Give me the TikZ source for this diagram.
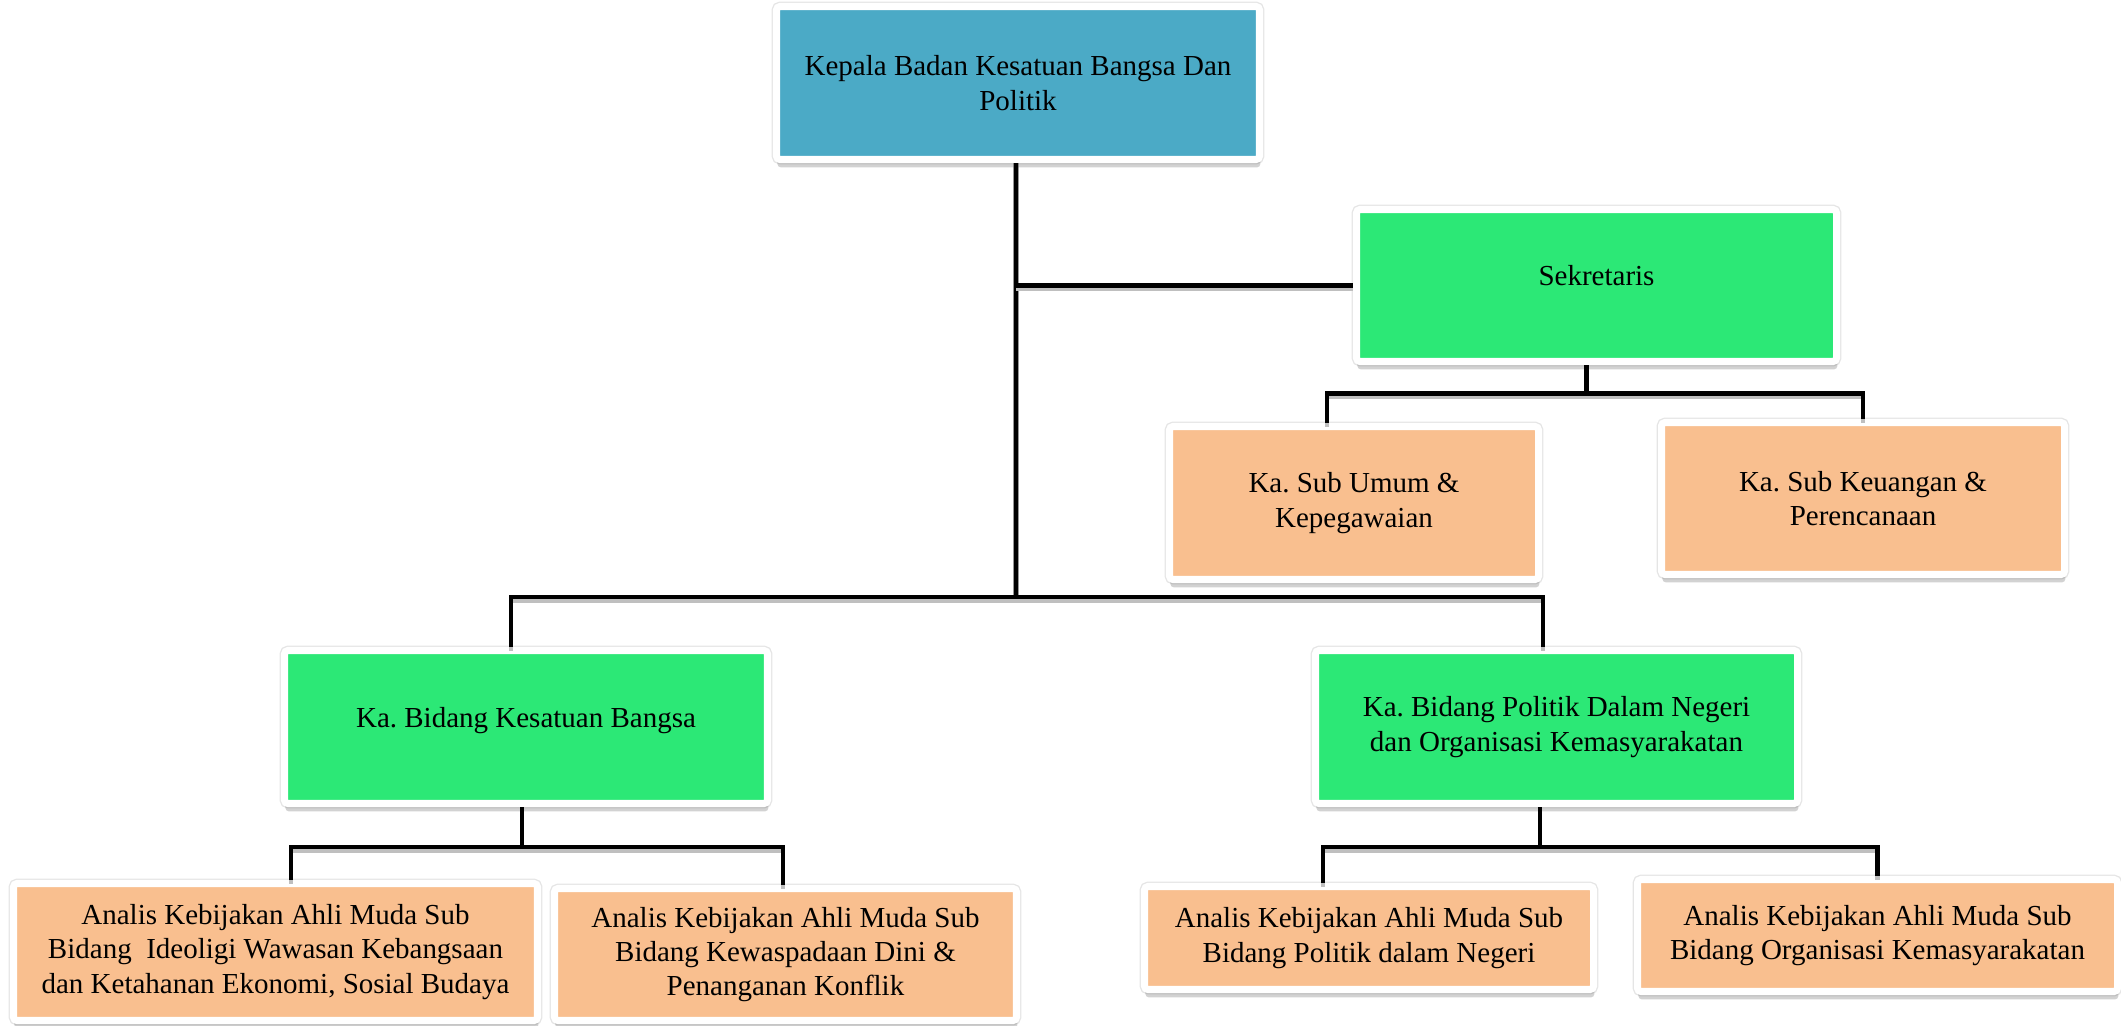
\documentclass[tikz,border=0pt]{standalone}
\usepackage{fontspec}
\setmainfont{Liberation Serif}
\frenchspacing
\usetikzlibrary{positioning,shadows,calc}
\definecolor{topblue}{RGB}{75,170,198}
\definecolor{boxgreen}{RGB}{44,232,118}
\definecolor{boxpeach}{RGB}{249,191,143}
\tikzset{
    unit/.style={draw=white, line width=4pt, rectangle, rounded corners=2pt, inner sep=0pt, align=center, font=\fontsize{16.5}{19.5}\selectfont, preaction={draw=black!10, line width=5.5pt}, drop shadow={shadow xshift=0.5pt, shadow yshift=-4.5pt, opacity=0.25, fill=black!70}},
    headbox/.style={unit, fill=topblue},
    greenbox/.style={unit, fill=boxgreen},
    peachbox/.style={unit, fill=boxpeach},
    link/.style={draw=black, line width=2.8pt, preaction={draw=black!25, line width=2.8pt, transform canvas={yshift=-2pt}}},
}

\begin{document}
\begin{tikzpicture}
\useasboundingbox (0,0) rectangle (42.42,-20.52);

\node[headbox, minimum width=9.66cm, minimum height=3.06cm] (kepala) at (20.36,-1.66) {Kepala Badan Kesatuan Bangsa Dan\\Politik};
\node[greenbox, minimum width=9.6cm, minimum height=3.04cm] (sekretaris) at (31.93,-5.71) {\raisebox{4mm}{Sekretaris}};
\node[peachbox, minimum width=7.38cm, minimum height=3.06cm] (umum) at (27.08,-10.06) {Ka. Sub Umum \&\\Kepegawaian};
\node[peachbox, minimum width=8.06cm, minimum height=3.04cm] (keuangan) at (37.26,-9.97) {Ka. Sub Keuangan \&\\Perencanaan};
\node[greenbox, minimum width=9.66cm, minimum height=3.06cm] (kesatuan) at (10.52,-14.54) {\raisebox{4mm}{Ka. Bidang Kesatuan Bangsa}};
\node[greenbox, minimum width=9.64cm, minimum height=3.06cm] (politik) at (31.13,-14.54) {Ka. Bidang Politik Dalam Negeri\\dan Organisasi Kemasyarakatan};
\node[peachbox, minimum width=10.48cm, minimum height=2.74cm] (ideologi) at (5.51,-19.04) {Analis Kebijakan Ahli Muda Sub\\Bidang\ \ Ideoligi Wawasan Kebangsaan\\dan Ketahanan Ekonomi, Sosial Budaya};
\node[peachbox, minimum width=9.24cm, minimum height=2.64cm] (waspada) at (15.71,-19.09) {Analis Kebijakan Ahli Muda Sub\\Bidang Kewaspadaan Dini \&\\Penanganan Konflik};
\node[peachbox, minimum width=8.98cm, minimum height=2.06cm] (dagri) at (27.38,-18.76) {Analis Kebijakan Ahli Muda Sub\\Bidang Politik dalam Negeri};
\node[peachbox, minimum width=9.6cm, minimum height=2.24cm] (ormas) at (37.55,-18.71) {Analis Kebijakan Ahli Muda Sub\\Bidang Organisasi Kemasyarakatan};

% bus lines
\coordinate (split) at (20.32,-11.94);
\coordinate (sekbus) at (0,-7.87);
\coordinate (kbus) at (0,-16.94);

\draw[link] ([xshift=-0.4mm]kepala.south) -- (split);
\draw[link] (split |- sekretaris.west) -- (sekretaris.west);
\draw[link] ([xshift=-3mm]kesatuan.north) |- (split) -| ([xshift=-2.7mm]politik.north);

\draw[link] ([xshift=-2mm]sekretaris.south) -- ([xshift=-2mm]sekretaris.south |- sekbus);
\draw[link] ([xshift=-5.4mm]umum.north) |- (keuangan.north |- sekbus) -- (keuangan.north);

\draw[link] ([xshift=-0.8mm]kesatuan.south) -- ([xshift=-0.8mm]kesatuan.south |- kbus);
\draw[link] ([xshift=3.1mm]ideologi.north) |- ([xshift=-0.5mm]waspada.north |- kbus) -- ([xshift=-0.5mm]waspada.north);

\draw[link] ([xshift=-3.3mm]politik.south) -- ([xshift=-3.3mm]politik.south |- kbus);
\draw[link] ([xshift=-9.2mm]dagri.north) |- (ormas.north |- kbus) -- (ormas.north);

\end{tikzpicture}
\end{document}
